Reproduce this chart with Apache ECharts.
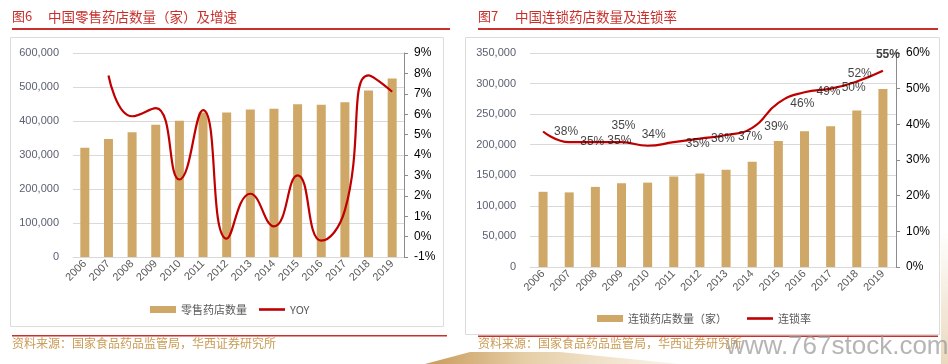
<!DOCTYPE html>
<html>
<head>
<meta charset="utf-8">
<script src="https://cdn.jsdelivr.net/npm/echarts@6/dist/echarts.min.js"></script>
<style>
html,body{margin:0;padding:0;background:#fff;}
#main{width:948px;height:364px;}
</style>
</head>
<body>
<div id="main"></div>
<script>
// ---- data ----
const years = ['2006','2007','2008','2009','2010','2011','2012','2013','2014','2015','2016','2017','2018','2019'];
const retailStores = [321000, 347000, 367000, 389000, 401000, 425000, 425000, 434000, 436000, 449000, 448000, 455000, 490000, 525000];
const retailYoy = [null, 7.9, 5.9, 6.3, 2.8, 6.2, -0.1, 2.1, 0.5, 3.0, -0.2, 1.3, 7.9, 7.1];
const chainStores = [123000, 122000, 131000, 137000, 138000, 148000, 153000, 159000, 172000, 206000, 222000, 230000, 256000, 291000];
const chainRate = [38, 35, 35, 35, 34, 35, 36, 37, 39, 46, 49, 50, 52, 55];

// label placement (style only): offset of each rate label from its point, px
const rateLabelOffset = [[23,0],[23,0],[24,-1],[2,-16],[6,-11],[24,2],[23,0],[24,2],[24,-1],[24,1],[24,-1],[23,-1],[3,-8],[5,-16]];

const BAR = '#cfa766';
const RED = '#c00000';
const AX = '#5b6172';
const FONT = '"Liberation Sans", Arial, sans-serif';
const CJK = '"Noto Sans CJK SC", sans-serif';
const LINE_ICON = 'path://M0,0L26,0L26,2.6L0,2.6Z';

const chart = echarts.init(document.getElementById('main'), null, {renderer: 'canvas'});

function yLeft(grid, max, interval) {
  return {
    type: 'value', gridIndex: grid, min: 0, max: max, interval: interval, position: 'left',
    axisLine: {show: false}, axisTick: {show: false},
    axisLabel: {color: AX, fontSize: 11, fontFamily: FONT, margin: 14,
      formatter: v => v === 0 ? '0' : v.toLocaleString('en-US')},
    splitLine: {show: true, lineStyle: {color: '#d9d9d9', width: 1}}
  };
}
function yRight(grid, min, max, interval) {
  return {
    type: 'value', gridIndex: grid, min: min, max: max, interval: interval, position: 'right',
    axisLine: {show: true, lineStyle: {color: '#8c8c8c', width: 1}},
    axisTick: {show: true, length: 4, lineStyle: {color: '#8c8c8c'}},
    axisLabel: {color: '#000', fontSize: 12, fontFamily: FONT, margin: 10, formatter: '{value}%'},
    splitLine: {show: false}
  };
}
function xAxis(grid) {
  return {
    type: 'category', gridIndex: grid, data: years, boundaryGap: true,
    axisLine: {show: true, lineStyle: {color: '#d9d9d9', width: 1}},
    axisTick: {show: false},
    axisLabel: {rotate: 45, color: '#595959', fontSize: 11, fontFamily: FONT, margin: 5, interval: 0}
  };
}

const option = {
  animation: false,
  backgroundColor: '#fff',
  grid: [
    {left: 73, right: 544, top: 53, bottom: 107},
    {left: 530, right: 52, top: 53, bottom: 97}
  ],
  xAxis: [xAxis(0), xAxis(1)],
  yAxis: [
    yLeft(0, 600000, 100000),
    yRight(0, -1, 9, 1),
    yLeft(1, 350000, 50000),
    yRight(1, 0, 60, 10)
  ],
  legend: [
    {
      data: [{name: '零售药店数量', icon: 'rect'}, {name: 'YOY', icon: LINE_ICON}],
      left: 145, top: 299, itemWidth: 26, itemHeight: 7, itemGap: 12,
      textStyle: {color: '#595959', fontSize: 11, fontFamily: CJK}
    },
    {
      data: [{name: '连锁药店数量（家）', icon: 'rect'}, {name: '连锁率', icon: LINE_ICON}],
      left: 592, top: 308, itemWidth: 26, itemHeight: 7, itemGap: 20,
      textStyle: {color: '#595959', fontSize: 11, fontFamily: CJK}
    }
  ],
  series: [
    {
      name: '零售药店数量', type: 'bar', xAxisIndex: 0, yAxisIndex: 0,
      data: retailStores, barWidth: 9, itemStyle: {color: BAR}
    },
    {
      name: 'YOY', type: 'line', xAxisIndex: 0, yAxisIndex: 1,
      data: retailYoy, smooth: 0.5, symbol: 'none',
      lineStyle: {color: RED, width: 2.2}, itemStyle: {color: RED}
    },
    {
      name: '连锁药店数量（家）', type: 'bar', xAxisIndex: 1, yAxisIndex: 2,
      data: chainStores, barWidth: 9, itemStyle: {color: BAR}
    },
    {
      name: '连锁率', type: 'line', xAxisIndex: 1, yAxisIndex: 3,
      data: chainRate, smooth: 0.5, symbol: 'none',
      lineStyle: {color: RED, width: 2.2}, itemStyle: {color: RED}
    },
    {
      name: 'rateLabels', type: 'scatter', xAxisIndex: 1, yAxisIndex: 3,
      symbolSize: 0, silent: true, z: 10,
      data: chainRate.map((v, i) => ({
        value: v,
        label: {
          show: true, position: 'inside', offset: rateLabelOffset[i],
          formatter: v + '%', color: '#111', fontSize: 12, fontFamily: FONT,
          fontWeight: i === chainRate.length - 1 ? 'bold' : 'normal'
        }
      }))
    }
  ],
  graphic: [
    // bottom decoration
    {type: 'polygon', silent: true, z: -10,
      shape: {points: [[425,364],[470,352],[560,352],[680,364]]},
      style: {fill: new echarts.graphic.LinearGradient(0,0,1,0,[
        {offset:0, color:'#c89a5a'},{offset:0.4, color:'#e6cfa8'},{offset:1, color:'#fbf5ec'}])}},
    {type: 'rect', silent: true, z: -10, shape: {x: 941, y: 230, width: 7, height: 134},
      style: {fill: new echarts.graphic.LinearGradient(0,0,0,1,[
        {offset:0, color:'#ffffff'},{offset:1, color:'#ead8bd'}])}},
    // boxes
    {type: 'rect', silent: true, z: -5, shape: {x: 10.5, y: 37.5, width: 433, height: 289},
      style: {fill: 'none', stroke: '#dcdcdc', lineWidth: 1}},
    {type: 'rect', silent: true, z: -5, shape: {x: 465.5, y: 37.5, width: 474, height: 297},
      style: {fill: 'none', stroke: '#dcdcdc', lineWidth: 1}},
    // titles
    {type: 'text', left: 12, top: 10, silent: true,
      style: {text: '图6', fill: '#c8302c', font: '13px ' + CJK}},
    {type: 'text', left: 48, top: 10, silent: true,
      style: {text: '中国零售药店数量（家）及增速', fill: '#c8302c', font: '13.5px ' + CJK}},
    {type: 'text', left: 478, top: 10, silent: true,
      style: {text: '图7', fill: '#c8302c', font: '13px ' + CJK}},
    {type: 'text', left: 515, top: 10, silent: true,
      style: {text: '中国连锁药店数量及连锁率', fill: '#c8302c', font: '13.5px ' + CJK}},
    {type: 'rect', silent: true, shape: {x: 12, y: 28, width: 438, height: 2}, style: {fill: '#c8302c'}},
    {type: 'rect', silent: true, shape: {x: 478, y: 28, width: 460, height: 2}, style: {fill: '#c8302c'}},
    // footers
    {type: 'rect', silent: true, shape: {x: 12, y: 335, width: 435, height: 1.5}, style: {fill: '#c8302c'}},
    {type: 'rect', silent: true, shape: {x: 478, y: 335.5, width: 460, height: 1.5}, style: {fill: '#c8302c'}},
    {type: 'text', left: 12, top: 337, silent: true,
      style: {text: '资料来源：国家食品药品监管局，华西证券研究所', fill: '#c99b55', font: '12px ' + CJK}},
    {type: 'text', left: 478, top: 337, silent: true,
      style: {text: '资料来源：国家食品药品监管局，华西证券研究所', fill: '#c99b55', font: '12px ' + CJK}},
    // watermark
    {type: 'text', left: 726, top: 334, silent: true, z: 20,
      style: {text: 'www.767stock.com', fill: 'rgba(150,150,150,0.7)', font: '26px "Liberation Sans", sans-serif'}}
  ]
};
chart.setOption(option);
</script>
</body>
</html>
